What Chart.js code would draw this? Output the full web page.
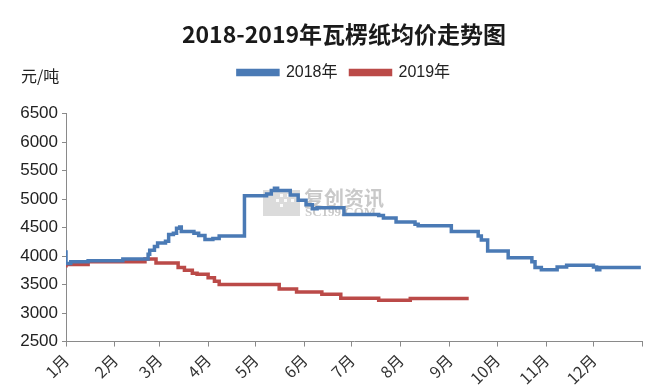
<!DOCTYPE html>
<html>
<head>
<meta charset="utf-8">
<script src="https://cdn.jsdelivr.net/npm/chart.js@4.4.1/dist/chart.umd.min.js"></script>
<style>
    html, body { margin: 0; padding: 0; background: #fff; }
    #wrap { width: 660px; height: 392px; position: relative; }
</style>
</head>
<body>
<div id="wrap"><canvas id="chartHarga"></canvas></div>
<script>
// Bulan (posisi tick dalam hari sejak 1 Jan)
const monthLabels = ['1月', '2月', '3月', '4月', '5月', '6月', '7月', '8月', '9月', '10月', '11月', '12月'];
const monthStarts = [0, 31, 59, 90, 120, 151, 181, 212, 243, 273, 304, 334, 365];
const yTicks = [2500, 3000, 3500, 4000, 4500, 5000, 5500, 6000, 6500];

// Harga 2018: hari perubahan harga dan nilainya (元/吨)
const days2018 = [0, 3, 14, 36, 52, 53, 56, 58, 63, 65, 68, 70, 72, 73, 81, 84, 88, 93, 97, 113,
    127, 130, 132, 134, 142, 147, 152, 156, 159, 176, 198, 201, 209, 221, 223, 244,
    261, 263, 267, 280, 295, 297, 301, 311, 317, 334, 336, 338, 348, 364];
const price2018 = [4100, 3870, 3900, 3920, 3950, 4030, 4100, 4170, 4230, 4260, 4380, 4400, 4490, 4510, 4430, 4400, 4360, 4290, 4310, 4350,
    5060, 5090, 5150, 5190, 5150, 5070, 4980, 4900, 4830, 4850, 4730, 4710, 4670, 4600, 4560, 4530,
    4430, 4350, 4280, 4090, 3970, 3900, 3800, 3760, 3810, 3840, 3810, 3760, 3800, 3800];

// Harga 2019
const days2019 = [0, 14, 50, 57, 71, 75, 80, 83, 90, 94, 97, 135, 146, 162, 174, 198, 218, 244, 255];
const price2019 = [3800, 3850, 3900, 3950, 3880, 3800, 3750, 3700, 3680, 3620, 3560, 3500, 3420, 3370, 3330, 3260, 3225, 3255, 3255];

const toPoints = (days, values) => days.map((d, i) => ({ x: d, y: values[i] }));

const fontLatin = "'Liberation Sans', 'Noto Sans CJK SC', sans-serif";
const axisColor = '#8a8a8a';

// Teks satuan di kiri atas
const unitLabel = {
    id: 'unitLabel',
    afterDraw(chart) {
        const ctx = chart.ctx;
        ctx.save();
        ctx.font = "16px 'Noto Sans CJK SC', sans-serif";
        ctx.fillStyle = '#222';
        ctx.textBaseline = 'middle';
        ctx.fillText('元/吨', 21, 76);
        ctx.restore();
    }
};

// Watermark samar di tengah area grafik
const watermark = {
    id: 'watermark',
    beforeDatasetsDraw(chart) {
        const ctx = chart.ctx;
        ctx.save();
        ctx.fillStyle = 'rgba(190, 190, 190, 0.55)';
        ctx.fillRect(263, 190, 37, 26);
        ctx.fillStyle = 'rgba(255, 255, 255, 0.9)';
        [[280, 194], [287, 194], [276, 199], [284, 199], [291, 199], [280, 204]].forEach(p => {
            ctx.fillRect(p[0], p[1], 3, 3);
        });
        ctx.fillStyle = 'rgba(165, 165, 165, 0.6)';
        ctx.font = "bold 20px 'Noto Sans CJK SC', sans-serif";
        ctx.textBaseline = 'middle';
        ctx.fillText('复创资讯', 304, 198);
        ctx.font = "bold 13px 'Liberation Serif', serif";
        ctx.fillText('SC199.COM', 305, 213);
        ctx.restore();
    }
};

// Tambah jarak di bawah legend, lalu geser judul dan legend sedikit ke kanan
const layoutTweak = {
    id: 'layoutTweak',
    beforeInit(chart) {
        const fit = chart.legend.fit;
        chart.legend.fit = function() {
            fit.bind(chart.legend)();
            this.height += 23;
        };
    },
    afterLayout(chart) {
        [chart.titleBlock, chart.legend].forEach(box => {
            if (box) {
                box.left += 17;
                box.right += 17;
            }
        });
    }
};

const ctxHarga = document.getElementById('chartHarga').getContext('2d');
new Chart(ctxHarga, {
    type: 'line',
    data: {
        datasets: [{
            label: '2018年',
            data: toPoints(days2018, price2018),
            borderColor: '#4a7ab5',
            backgroundColor: '#4a7ab5',
            borderWidth: 3.5,
            stepped: 'after',
            pointRadius: 0
        }, {
            label: '2019年',
            data: toPoints(days2019, price2019),
            borderColor: '#bb4a48',
            backgroundColor: '#bb4a48',
            borderWidth: 3.5,
            stepped: 'after',
            pointRadius: 0
        }]
    },
    options: {
        responsive: true,
        maintainAspectRatio: false,
        animation: false,
        layout: {
            padding: { left: 0, right: 6, top: 0, bottom: 0 }
        },
        plugins: {
            title: {
                display: true,
                text: '2018-2019年瓦楞纸均价走势图',
                color: '#1a1a1a',
                font: { family: "'Noto Sans CJK SC', sans-serif", size: 23, weight: 'bold' },
                padding: { top: 20, bottom: 4 }
            },
            legend: {
                display: true,
                position: 'top',
                labels: {
                    boxWidth: 40,
                    boxHeight: 4,
                    padding: 13,
                    color: '#222',
                    font: { family: fontLatin, size: 16 }
                }
            },
            tooltip: { enabled: false }
        },
        scales: {
            x: {
                type: 'linear',
                min: 0,
                max: 365,
                afterBuildTicks: function(scale) {
                    scale.ticks = monthStarts.map(v => ({ value: v }));
                },
                ticks: {
                    autoSkip: false,
                    minRotation: 45,
                    maxRotation: 45,
                    color: '#333',
                    padding: 4,
                    font: { family: "'Noto Sans CJK SC', sans-serif", size: 16 },
                    callback: function(value, index) {
                        return monthLabels[index] || '';
                    }
                },
                grid: {
                    display: true,
                    drawOnChartArea: false,
                    drawTicks: true,
                    tickLength: 5,
                    color: axisColor
                },
                border: { color: axisColor, width: 1 }
            },
            y: {
                min: 2500,
                max: 6500,
                afterBuildTicks: function(scale) {
                    scale.ticks = yTicks.map(v => ({ value: v }));
                },
                afterFit: function(scale) {
                    scale.width = 66;
                },
                ticks: {
                    color: '#222',
                    padding: 4,
                    font: { family: fontLatin, size: 17 },
                    callback: function(value) {
                        return String(value);
                    }
                },
                grid: {
                    display: true,
                    drawOnChartArea: false,
                    drawTicks: true,
                    tickLength: 4,
                    color: axisColor
                },
                border: { color: axisColor, width: 1 }
            }
        }
    },
    plugins: [layoutTweak, watermark, unitLabel]
});
</script>
</body>
</html>
